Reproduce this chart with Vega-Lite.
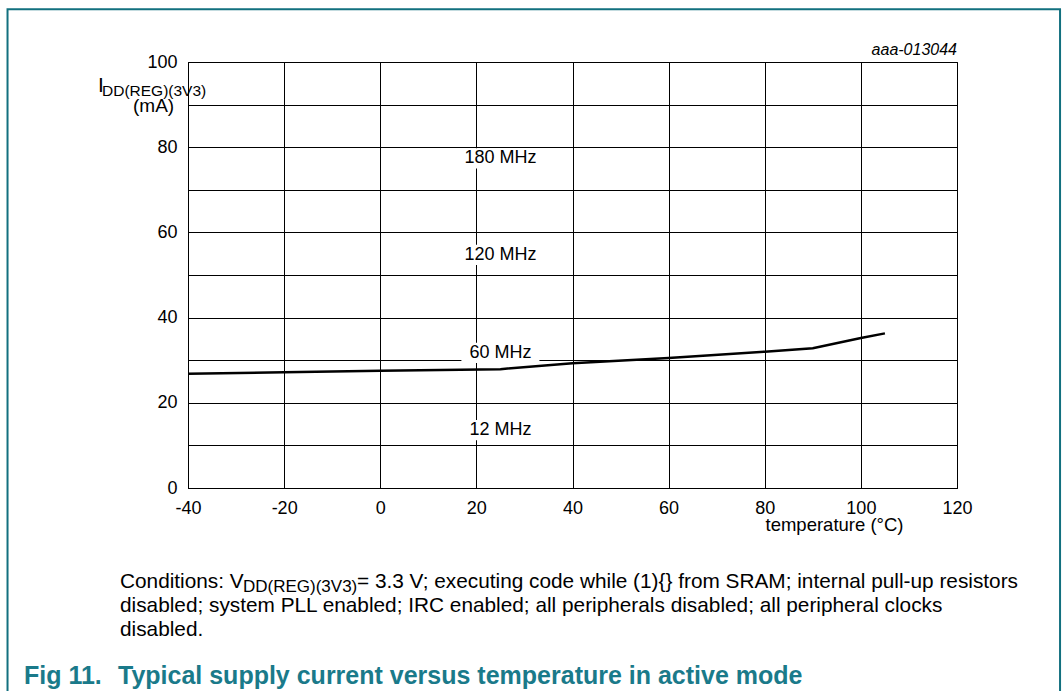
{
  "$schema": "https://vega.github.io/schema/vega-lite/v6.json",
  "width": 769,
  "height": 426,
  "autosize": {"type": "none"},
  "padding": {"left": 188, "top": 62, "right": 106, "bottom": 203},
  "background": "white",
  "config": {
    "view": {"stroke": "black", "strokeWidth": 1},
    "font": "Liberation Sans",
    "axis": {"grid": true, "gridColor": "black", "gridOpacity": 1, "gridWidth": 1, "domainColor": "black", "ticks": false, "labelFontSize": 18, "labelColor": "black", "labelFont": "Liberation Sans", "titleFont": "Liberation Sans", "labelOverlap": false, "labelFlush": false}
  },
  "datasets": {
    "curve": [
      {"temp": -40, "idd": 26.8},
      {"temp": -20, "idd": 27.2},
      {"temp": 0, "idd": 27.5},
      {"temp": 25, "idd": 27.9},
      {"temp": 40, "idd": 29.3},
      {"temp": 60, "idd": 30.5},
      {"temp": 80, "idd": 32.0},
      {"temp": 90, "idd": 32.8},
      {"temp": 100, "idd": 35.2},
      {"temp": 105, "idd": 36.3}
    ],
    "freq": [
      {"temp": 25, "idd": 77.4, "label": "180 MHz"},
      {"temp": 25, "idd": 54.7, "label": "120 MHz"},
      {"temp": 25, "idd": 31.7, "label": "60 MHz"},
      {"temp": 25, "idd": 13.6, "label": "12 MHz"}
    ],
    "notes": [
      {"temp": -58.73, "idd": 94.37, "text": "I", "kind": "big"},
      {"temp": -57.89, "idd": 93.2, "text": "DD(REG)(3V3)", "kind": "ysub"},
      {"temp": -51.44, "idd": 89.67, "text": "(mA)", "kind": "axis"},
      {"temp": 120, "idd": 102.8, "text": "aaa-013044", "kind": "italic"},
      {"temp": -54.15, "idd": -22.07, "text": "Conditions: V", "kind": "body"},
      {"temp": -28.56, "idd": -23.24, "text": "DD(REG)(3V3)", "kind": "sub"},
      {"temp": -4.84, "idd": -22.07, "text": " = 3.3 V; executing code while (1){} from SRAM; internal pull-up resistors", "kind": "body"},
      {"temp": -54.15, "idd": -27.7, "text": "disabled; system PLL enabled; IRC enabled; all peripherals disabled; all peripheral clocks", "kind": "body"},
      {"temp": -54.15, "idd": -33.33, "text": "disabled.", "kind": "body"},
      {"temp": -74.12, "idd": -44.13, "text": "Fig 11.", "kind": "caption"},
      {"temp": -54.57, "idd": -44.13, "text": "Typical supply current versus temperature in active mode", "kind": "caption"}
    ],
    "frame": [{"x1": -77.55, "x2": 141.44, "y1": 112.4, "y2": -60}]
  },
  "encoding": {
    "x": {"field": "temp", "type": "quantitative", "scale": {"domain": [-40, 120], "nice": false, "zero": false},
      "axis": {"values": [-40, -20, 0, 20, 40, 60, 80, 100, 120], "labelExpr": "replace(datum.label, '\u2212', '-')", "labelPadding": 11, "title": "temperature (°C)", "titleFontSize": 18.5, "titleFontWeight": "normal", "titleColor": "black", "titleX": 646, "titleY": 36, "titleAlign": "center", "titleBaseline": "middle"}},
    "y": {"field": "idd", "type": "quantitative", "scale": {"domain": [0, 100], "nice": false, "zero": false},
      "axis": {"values": [0, 10, 20, 30, 40, 50, 60, 70, 80, 90, 100], "labelExpr": "datum.value % 20 === 0 ? datum.label : ''", "labelPadding": 11, "title": null}}
  },
  "layer": [
    {
      "data": {"name": "frame"},
      "mark": {"type": "rect", "filled": false, "stroke": "#12707f", "strokeWidth": 2, "clip": false},
      "encoding": {
        "x": {"field": "x1", "type": "quantitative"},
        "x2": {"field": "x2"},
        "y": {"field": "y1", "type": "quantitative"},
        "y2": {"field": "y2"}
      }
    },
    {
      "data": {"name": "freq"},
      "mark": {"type": "point", "shape": "M-1,-0.26H1V0.26H-1Z", "size": 6084, "filled": true, "color": "white", "opacity": 1, "strokeWidth": 0}
    },
    {
      "data": {"name": "freq"},
      "mark": {"type": "text", "fontSize": 18, "align": "center", "baseline": "middle", "color": "black"},
      "encoding": {"text": {"field": "label"}}
    },
    {
      "data": {"name": "curve"},
      "mark": {"type": "line", "color": "black", "strokeWidth": 2.5}
    },
    {
      "data": {"name": "notes"},
      "transform": [{"filter": "datum.kind === 'body'"}],
      "mark": {"type": "text", "fontSize": 20.8, "align": "left", "baseline": "middle", "color": "black"},
      "encoding": {"text": {"field": "text"}}
    },
    {
      "data": {"name": "notes"},
      "transform": [{"filter": "datum.kind === 'big'"}],
      "mark": {"type": "text", "fontSize": 21, "align": "left", "baseline": "middle", "color": "black"},
      "encoding": {"text": {"field": "text"}}
    },
    {
      "data": {"name": "notes"},
      "transform": [{"filter": "datum.kind === 'axis'"}],
      "mark": {"type": "text", "fontSize": 19, "align": "left", "baseline": "middle", "color": "black"},
      "encoding": {"text": {"field": "text"}}
    },
    {
      "data": {"name": "notes"},
      "transform": [{"filter": "datum.kind === 'ysub'"}],
      "mark": {"type": "text", "fontSize": 15.5, "align": "left", "baseline": "middle", "color": "black"},
      "encoding": {"text": {"field": "text"}}
    },
    {
      "data": {"name": "notes"},
      "transform": [{"filter": "datum.kind === 'sub'"}],
      "mark": {"type": "text", "fontSize": 17, "align": "left", "baseline": "middle", "color": "black"},
      "encoding": {"text": {"field": "text"}}
    },
    {
      "data": {"name": "notes"},
      "transform": [{"filter": "datum.kind === 'italic'"}],
      "mark": {"type": "text", "fontSize": 16, "fontStyle": "italic", "align": "right", "baseline": "middle", "color": "black"},
      "encoding": {"text": {"field": "text"}}
    },
    {
      "data": {"name": "notes"},
      "transform": [{"filter": "datum.kind === 'caption'"}],
      "mark": {"type": "text", "fontSize": 25, "fontWeight": "bold", "align": "left", "baseline": "middle", "color": "#1a7a8a"},
      "encoding": {"text": {"field": "text"}}
    }
  ]
}
